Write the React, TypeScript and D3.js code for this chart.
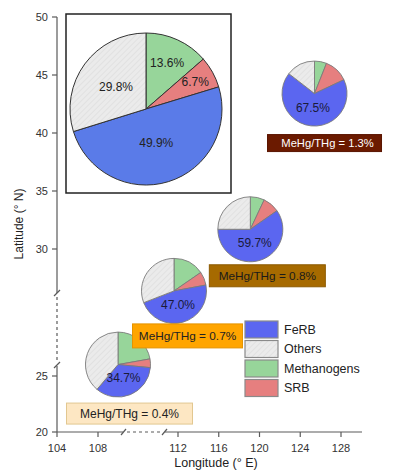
import React from "react";
import * as d3 from "d3";

// ---- data ----
const categories = ["Methanogens", "SRB", "FeRB", "Others"]; // clockwise slice order from 12 o'clock
const legendOrder = ["FeRB", "Others", "Methanogens", "SRB"];

const siteLon = [109.0, 111.8, 119.1, 125.4];
const siteLat = [25.45, 28.35, 31.7, 43.4];
const siteRatio = ["0.4%", "0.7%", "0.8%", "1.3%"];
const siteMethanogens = [22.2, 15.4, 7.0, 6.0];
const siteSRB = [4.3, 6.7, 8.3, 12.0];
const siteFeRB = [34.7, 47.0, 59.7, 67.5];
const siteOthers = [38.8, 30.9, 25.0, 14.5];

const overallValues = [13.6, 6.7, 49.9, 29.8]; // Methanogens, SRB, FeRB, Others

const xTicks = [104, 108, 112, 116, 120, 124, 128];
const yTicks = [20, 25, 30, 35, 40, 45, 50];

// ---- styles / layout ----
const W = 396;
const H = 474;
const FONT = "'Liberation Sans', Arial, sans-serif";
const colors: Record<string, string> = {
  FeRB: "#5b66f0",
  Others: "#e8e8e8",
  Methanogens: "#97d59a",
  SRB: "#e67f7f",
};
const bigBlue = "#5a7be8";
const boxStyles = [
  { dx: 11.5, dy: 49, w: 126, h: 21, fill: "#fde7c3", stroke: "#e2c790", text: "#222", fs: 12, tdx: 0 },
  { dx: 13.5, dy: 45, w: 110, h: 24, fill: "#ffa500", stroke: "#e59400", text: "#222", fs: 11.8, tdx: 0 },
  { dx: 17, dy: 46.5, w: 116, h: 22, fill: "#a66a00", stroke: "#8c5a00", text: "#1a1a1a", fs: 11.8, tdx: 0 },
  { dx: 10, dy: 49.5, w: 114, h: 17, fill: "#6b1a00", stroke: "#5a1500", text: "#ffffff", fs: 11.2, tdx: 3 },
];
const bigLabelR = [0.67, 0.74, 0.46, 0.49];

// piecewise scales with axis breaks
const x = d3.scaleLinear().domain([104, 108, 112, 128]).range([57, 98, 178, 341]);
const y = d3.scaleLinear().domain([20, 25, 30, 50]).range([432, 376, 249, 17]);

const pie = d3.pie<number>().sort(null).value((d) => d);

function fillFor(cat: string, big = false) {
  if (cat === "Others") return "url(#hatch)";
  if (big && cat === "FeRB") return bigBlue;
  return colors[cat];
}

export default function App() {
  const axisColor = "#5a5a5a";
  const tickText = "#333";

  const smallR = 32.5;
  const arcSmall = d3.arc<d3.PieArcDatum<number>>().innerRadius(0).outerRadius(smallR);

  // inset box
  const inset = { x0: 66, y0: 14, x1: 231, y1: 193 };
  const bigCx = 146, bigCy = 109, bigR = 76;
  const arcBig = d3.arc<d3.PieArcDatum<number>>().innerRadius(0).outerRadius(bigR);
  const bigArcs = pie(overallValues);

  const xAxisY = y(20);
  const yAxisX = x(104);

  return (
    <svg width={W} height={H} style={{ position: "absolute", left: 0, top: 0, background: "#fff" }} fontFamily={FONT}>
      <defs>
        <pattern id="hatch" width="4" height="4" patternUnits="userSpaceOnUse" patternTransform="rotate(45)">
          <rect width="4" height="4" fill="#ebebeb" />
          <line x1="0" y1="0" x2="0" y2="4" stroke="#d8d8d8" strokeWidth="1" />
        </pattern>
      </defs>
      <rect width={W} height={H} fill="#fff" />

      {/* Y axis with break */}
      <g stroke={axisColor} strokeWidth={1.2} fill="none">
        <line x1={yAxisX} x2={yAxisX} y1={y(50)} y2={293} />
        <line x1={yAxisX} x2={yAxisX} y1={297} y2={362} strokeDasharray="3,3" />
        <line x1={yAxisX} x2={yAxisX} y1={366} y2={xAxisY} />
        <line x1={yAxisX - 3} x2={yAxisX + 3} y1={296} y2={290} />
        <line x1={yAxisX - 3} x2={yAxisX + 3} y1={368} y2={362} />
        {yTicks.map((t) => (
          <line key={t} x1={yAxisX - 5} x2={yAxisX} y1={y(t)} y2={y(t)} />
        ))}
      </g>
      {yTicks.map((t) => (
        <text key={t} x={yAxisX - 9} y={y(t)} dy="0.35em" textAnchor="end" fontSize={11} fill={tickText}>
          {t}
        </text>
      ))}
      <text transform={`translate(23,224) rotate(-90)`} textAnchor="middle" fontSize={12} fill="#222">
        Latitude (° N)
      </text>

      {/* X axis with break */}
      <g stroke={axisColor} strokeWidth={1.2} fill="none">
        <line x1={yAxisX} x2={123} y1={xAxisY} y2={xAxisY} />
        <line x1={127} x2={162} y1={xAxisY} y2={xAxisY} strokeDasharray="3,3" />
        <line x1={165} x2={362} y1={xAxisY} y2={xAxisY} />
        <line x1={121} x2={126} y1={xAxisY + 3} y2={xAxisY - 3} />
        <line x1={162} x2={167} y1={xAxisY + 3} y2={xAxisY - 3} />
        {xTicks.map((t) => (
          <line key={t} x1={x(t)} x2={x(t)} y1={xAxisY} y2={xAxisY + 5} />
        ))}
      </g>
      {xTicks.map((t) => (
        <text key={t} x={x(t)} y={xAxisY + 20} textAnchor="middle" fontSize={11} fill={tickText}>
          {t}
        </text>
      ))}
      <text x={216} y={467} textAnchor="middle" fontSize={12.5} fill="#222">
        Longitude (° E)
      </text>

      {/* Inset overall pie */}
      <rect x={inset.x0} y={inset.y0} width={inset.x1 - inset.x0} height={inset.y1 - inset.y0} fill="#fff" stroke="#222" strokeWidth={1.5} />
      <g transform={`translate(${bigCx},${bigCy})`}>
        {bigArcs.map((a, i) => (
          <path key={i} d={arcBig(a) as string} fill={fillFor(categories[i], true)} stroke="#333" strokeWidth={1} />
        ))}
        {bigArcs.map((a, i) => {
          const r = bigLabelR[i] * bigR;
          const c = d3.arc<d3.PieArcDatum<number>>().innerRadius(r).outerRadius(r).centroid(a);
          return (
            <text key={i} x={c[0]} y={c[1]} dy="0.35em" textAnchor="middle" fontSize={12} fill="#222">
              {overallValues[i]}%
            </text>
          );
        })}
      </g>

      {/* Site pies */}
      {siteLon.map((lon, s) => {
        const vals = [siteMethanogens[s], siteSRB[s], siteFeRB[s], siteOthers[s]];
        const arcs = pie(vals);
        const cx = x(lon);
        const cy = y(siteLat[s]);
        const fe = arcs[2];
        const mid = (fe.startAngle + fe.endAngle) / 2;
        const lr = smallR * 0.45;
        const b = boxStyles[s];
        return (
          <g key={s}>
            <g transform={`translate(${cx},${cy})`}>
              {arcs.map((a, i) => (
                <path key={i} d={arcSmall(a) as string} fill={fillFor(categories[i])} stroke="#7a7a7a" strokeWidth={0.9} />
              ))}
              <text x={Math.sin(mid) * lr} y={-Math.cos(mid) * lr} dy="0.35em" textAnchor="middle" fontSize={12} fill="#1a1a3a">
                {siteFeRB[s].toFixed(1)}%
              </text>
            </g>
            <rect x={cx + b.dx - b.w / 2} y={cy + b.dy - b.h / 2} width={b.w} height={b.h} fill={b.fill} stroke={b.stroke} strokeWidth={1} />
            <text x={cx + b.dx + b.tdx} y={cy + b.dy} dy="0.36em" textAnchor="middle" fontSize={b.fs} fill={b.text}>
              {`MeHg/THg = ${siteRatio[s]}`}
            </text>
          </g>
        );
      })}

      {/* Legend */}
      <g transform="translate(245,321)">
        {legendOrder.map((c, i) => (
          <g key={c} transform={`translate(0,${i * 19.5})`}>
            <rect x={0} y={0} width={33} height={17} fill={fillFor(c)} stroke="#8a8a8a" strokeWidth={1.2} />
            <text x={39} y={8.5} dy="0.35em" fontSize={12.5} fill="#222">
              {c}
            </text>
          </g>
        ))}
      </g>
    </svg>
  );
}
